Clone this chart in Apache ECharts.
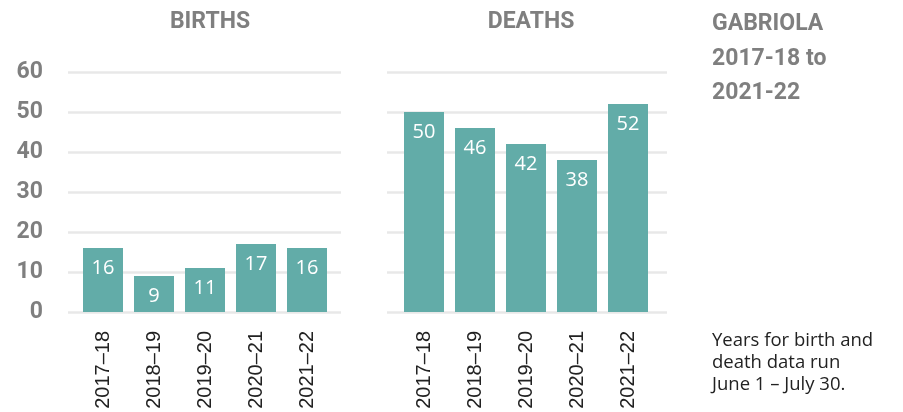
<!DOCTYPE html>
<html>
<head>
<meta charset="UTF-8">
<title>Gabriola births and deaths</title>
<script type="text/javascript" src="https://cdn.jsdelivr.net/npm/echarts@6/dist/echarts.min.js"></script>
<style>
	html, body { margin: 0; padding: 0; background: #fff; }
</style>
</head>
<body>
	<div id="chart" style="width: 903px; height: 412px;"></div>

	<script type="text/javascript">
	// data
	var years = ['2017–18', '2018–19', '2019–20', '2020–21', '2021–22'];
	var births = [16, 9, 11, 17, 16];
	var deaths = [50, 46, 42, 38, 52];
	var yTicks = [0, 10, 20, 30, 40, 50, 60];
	var panelTitles = ['BIRTHS', 'DEATHS'];
	var sideTitle = 'GABRIOLA\n2017-18 to\n2021-22';
	var footNote = 'Years for birth and\ndeath data run\nJune 1 – July 30.';

	var chart = echarts.init(document.getElementById('chart'));

	var grey = '#7f7f7f';
	var teal = '#62aca8';
	var heavy = "Roboto, sans-serif";

	var yMin = yTicks[0], yMax = yTicks[yTicks.length - 1], yStep = yTicks[1] - yTicks[0];

	// grid 0/1 only carry the split lines, grid 2/3 carry the bars
	var option = {
		animation: false,
		title: [{
			text: panelTitles[0], left: 205, top: 6, textAlign: 'center',
			textStyle: { fontFamily: heavy, fontWeight: 'bold', fontSize: 23, color: grey }
		}, {
			text: panelTitles[1], left: 526, top: 6, textAlign: 'center',
			textStyle: { fontFamily: heavy, fontWeight: 'bold', fontSize: 23, color: grey }
		}, {
			text: sideTitle, left: 707, top: 2,
			textStyle: { fontFamily: heavy, fontWeight: 'bold', fontSize: 23, lineHeight: 34.5, color: grey }
		}, {
			text: footNote, left: 707, top: 325,
			textStyle: { fontFamily: 'Open Sans', fontWeight: 'normal', fontSize: 18.5, lineHeight: 22, color: '#222' }
		}],
		grid: [
			{ left: 68, width: 273, top: 72, height: 240 },
			{ left: 387, width: 280, top: 72, height: 240 },
			{ left: 77.5, width: 255, top: 72, height: 240 },
			{ left: 398.5, width: 255, top: 72, height: 240 }
		],
		xAxis: [
			{ gridIndex: 0, type: 'value', show: false },
			{ gridIndex: 1, type: 'value', show: false },
			{
				gridIndex: 2, type: 'category', data: years,
				axisLine: { show: false }, axisTick: { show: false },
				axisLabel: { rotate: 90, margin: 19, fontFamily: 'Liberation Sans', fontSize: 20, color: '#222' }
			},
			{
				gridIndex: 3, type: 'category', data: years,
				axisLine: { show: false }, axisTick: { show: false },
				axisLabel: { rotate: 90, margin: 19, fontFamily: 'Liberation Sans', fontSize: 20, color: '#222' }
			}
		],
		yAxis: [
			{
				gridIndex: 0, type: 'value', min: yMin, max: yMax, interval: yStep,
				axisLine: { show: false }, axisTick: { show: false },
				splitLine: { lineStyle: { color: '#e8e8e8', width: 2.5 } },
				axisLabel: { margin: 25, fontFamily: heavy, fontWeight: 'bold', fontSize: 23, color: grey }
			},
			{
				gridIndex: 1, type: 'value', min: yMin, max: yMax, interval: yStep,
				axisLine: { show: false }, axisTick: { show: false },
				splitLine: { lineStyle: { color: '#e8e8e8', width: 2.5 } },
				axisLabel: { show: false }
			},
			{ gridIndex: 2, type: 'value', min: yMin, max: yMax, show: false },
			{ gridIndex: 3, type: 'value', min: yMin, max: yMax, show: false }
		],
		series: [{
			name: panelTitles[0], type: 'bar', xAxisIndex: 2, yAxisIndex: 2,
			data: births, barWidth: 40, itemStyle: { color: teal },
			label: { show: true, position: 'insideTop', distance: 10, color: '#fff', fontFamily: 'Open Sans', fontSize: 20 }
		}, {
			name: panelTitles[1], type: 'bar', xAxisIndex: 3, yAxisIndex: 3,
			data: deaths, barWidth: 40, itemStyle: { color: teal },
			label: { show: true, position: 'insideTop', distance: 10, color: '#fff', fontFamily: 'Open Sans', fontSize: 20 }
		}]
	};

	chart.setOption(option);
	</script>
</body>
</html>
